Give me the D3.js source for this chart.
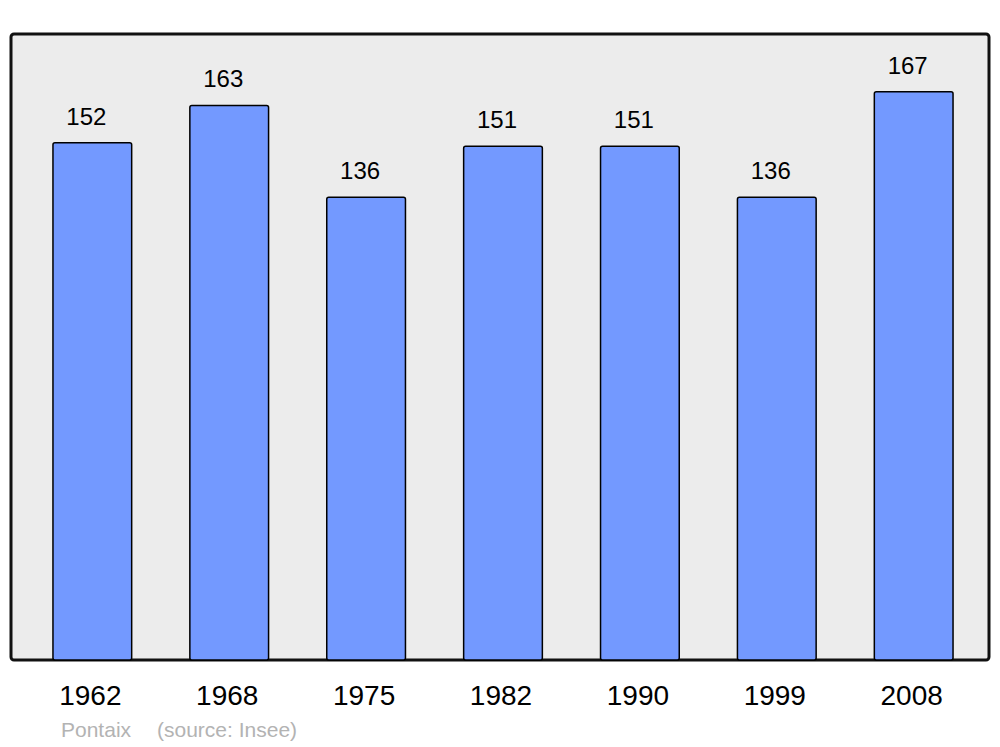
<!DOCTYPE html>
<html>
<head>
<meta charset="utf-8">
<script src="https://cdn.jsdelivr.net/npm/d3@7"></script>
<style>
  body { margin: 0; background: #fff; }
  svg { display: block; font-family: "Liberation Sans", Arial, sans-serif; }
</style>
</head>
<body>
<div id="chart"></div>
<script>
// population per census year
var years = ["1962", "1968", "1975", "1982", "1990", "1999", "2008"];
var population = [152, 163, 136, 151, 151, 136, 167];
var townName = "Pontaix";
var sourceText = "(source: Insee)";

var width = 1000, height = 747;

var svg = d3.select("#chart").append("svg")
  .attr("width", width)
  .attr("height", height);

// background panel
svg.append("rect")
  .attr("x", 11).attr("y", 34)
  .attr("width", 978).attr("height", 626)
  .attr("rx", 3).attr("ry", 3)
  .attr("fill", "#ececec")
  .attr("stroke", "#111")
  .attr("stroke-width", 3);

var x = d3.scaleBand()
  .domain(years)
  .range([16, 990])
  .paddingInner(0.425)
  .paddingOuter(0.27);

var y = d3.scaleLinear()
  .domain([0, 184])
  .range([660, 34]);

var data = years.map(function(d, i) { return {year: d, value: population[i]}; });

svg.selectAll(".bar")
  .data(data)
  .enter().append("rect")
  .attr("class", "bar")
  .attr("x", function(d) { return x(d.year); })
  .attr("y", function(d) { return y(d.value); })
  .attr("width", x.bandwidth())
  .attr("height", function(d) { return y(0) - y(d.value); })
  .attr("rx", 2).attr("ry", 2)
  .attr("fill", "#7399ff")
  .attr("stroke", "#000")
  .attr("stroke-width", 1.5);

// value labels (sit a bit left of bar centre, like the original)
svg.selectAll(".val")
  .data(data)
  .enter().append("text")
  .attr("class", "val")
  .attr("x", function(d) { return x(d.year) + x.bandwidth() / 2 - 6; })
  .attr("y", function(d) { return y(d.value) - 18; })
  .attr("text-anchor", "middle")
  .style("font-size", "24px")
  .attr("fill", "#000")
  .text(function(d) { return d.value; });

// x axis labels
var xAxis = d3.axisBottom(x).tickSize(0).tickPadding(0);
var gx = svg.append("g")
  .attr("transform", "translate(0,660)")
  .call(xAxis);
gx.select(".domain").remove();
gx.selectAll(".tick text")
  .attr("x", -2)
  .attr("y", 45)
  .attr("dy", 0)
  .style("font-family", "Liberation Sans, Arial, sans-serif")
  .style("font-size", "28px")
  .attr("fill", "#000");

// footer
svg.append("text")
  .attr("x", 61).attr("y", 737)
  .style("font-size", "21px")
  .attr("fill", "#b3b3b3")
  .text(townName);
svg.append("text")
  .attr("x", 157).attr("y", 737)
  .style("font-size", "21px")
  .attr("fill", "#b3b3b3")
  .text(sourceText);
</script>
</body>
</html>
